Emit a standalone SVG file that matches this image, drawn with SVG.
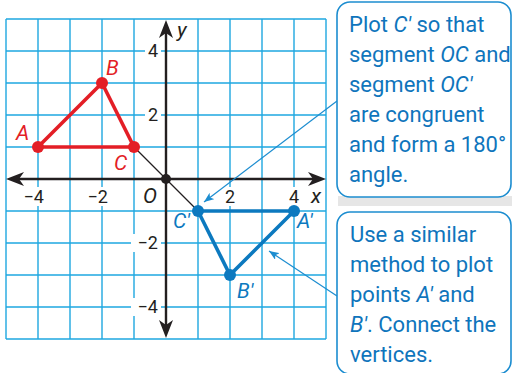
<svg xmlns="http://www.w3.org/2000/svg" width="512" height="373" viewBox="0 0 512 373">
<defs>
<style>
.grid line{stroke:#1EA7E0;stroke-width:1.4}
.axis{stroke:#231F20;stroke-width:2.4}
.num{font-family:Roboto,"Liberation Sans",sans-serif;font-size:18px;fill:#231F20}
.lbl{font-family:Roboto,"Liberation Sans",sans-serif;font-size:21px;font-style:italic}
.red{fill:#E31E26}
.blue{fill:#0C79BF}
.box{fill:#fff;stroke:#1C8DD0;stroke-width:1.6}
.bt{font-family:Roboto,"Liberation Sans",sans-serif;font-size:22px;fill:#0F75BC}
.i{font-style:italic}
.lead{stroke:#1C8DD0;stroke-width:1.2;fill:none}
</style>
<marker id="ah" viewBox="0 0 10 8" refX="10" refY="4" markerWidth="10" markerHeight="8" markerUnits="userSpaceOnUse" orient="auto">
<path d="M0,0 L10,4 L0,8 L2.5,4 Z" fill="#1C8DD0"/>
</marker>
</defs>
<rect width="512" height="373" fill="#fff"/>
<g id="grid" class="grid">
<line x1="6" y1="19" x2="6" y2="339"/><line x1="38" y1="19" x2="38" y2="339"/><line x1="70" y1="19" x2="70" y2="339"/><line x1="102" y1="19" x2="102" y2="339"/><line x1="134" y1="19" x2="134" y2="339"/><line x1="198" y1="19" x2="198" y2="339"/><line x1="230" y1="19" x2="230" y2="339"/><line x1="262" y1="19" x2="262" y2="339"/><line x1="294" y1="19" x2="294" y2="339"/><line x1="326" y1="19" x2="326" y2="339"/>
<line x1="6" y1="19" x2="326" y2="19"/><line x1="6" y1="51" x2="326" y2="51"/><line x1="6" y1="83" x2="326" y2="83"/><line x1="6" y1="115" x2="326" y2="115"/><line x1="6" y1="147" x2="326" y2="147"/><line x1="6" y1="211" x2="326" y2="211"/><line x1="6" y1="243" x2="326" y2="243"/><line x1="6" y1="275" x2="326" y2="275"/><line x1="6" y1="307" x2="326" y2="307"/><line x1="6" y1="339" x2="326" y2="339"/>
</g>
<g id="tick-labels">
<rect x="16" y="187" width="29" height="19" fill="#fff"/>
<rect x="80" y="187" width="29" height="19" fill="#fff"/>
<rect x="222" y="187" width="16" height="19" fill="#fff"/>
<rect x="286" y="187" width="16" height="19" fill="#fff"/>
<rect x="145" y="42" width="16" height="18" fill="#fff"/>
<rect x="145" y="106" width="16" height="18" fill="#fff"/>
<rect x="131" y="234" width="30" height="18" fill="#fff"/>
<rect x="131" y="298" width="30" height="18" fill="#fff"/>
<text class="num" x="44" y="203" text-anchor="end">−4</text>
<text class="num" x="108" y="203" text-anchor="end">−2</text>
<text class="num" x="230" y="203" text-anchor="middle">2</text>
<text class="num" x="294" y="203" text-anchor="middle">4</text>
<text class="num" x="153" y="57" text-anchor="middle">4</text>
<text class="num" x="153" y="121" text-anchor="middle">2</text>
<text class="num" x="158" y="249" text-anchor="end">−2</text>
<text class="num" x="158" y="313" text-anchor="end">−4</text>
<text class="lbl" x="143" y="203" fill="#231F20" font-size="21">O</text>
<text class="lbl" x="311" y="203" fill="#231F20" font-size="20">x</text>
<text class="lbl" x="177" y="37" fill="#231F20" font-size="20">y</text>
</g>
<g id="axes">
<line class="axis" x1="14" y1="179" x2="318" y2="179"/>
<line class="axis" x1="166" y1="28" x2="166" y2="330"/>
<path d="M6,179 L24,172 L19,179 L24,186 Z" fill="#231F20"/>
<path d="M326,179 L308,172 L313,179 L308,186 Z" fill="#231F20"/>
<path d="M166,20 L159,38 L166,33 L173,38 Z" fill="#231F20"/>
<path d="M166,338 L159,320 L166,325 L173,320 Z" fill="#231F20"/>
</g>
<g id="connectors">
<line x1="134" y1="147" x2="198" y2="211" stroke="#231F20" stroke-width="1.3"/>
<line class="lead" x1="337" y1="101" x2="204" y2="202" marker-end="url(#ah)"/>
<line class="lead" x1="337" y1="296" x2="269" y2="251" marker-end="url(#ah)"/>
</g>
<g id="triangle-ABC">
<polygon points="38,147 102,83 134,147" fill="none" stroke="#E31E26" stroke-width="3.6" stroke-linejoin="round"/>
<circle cx="38" cy="147" r="6" class="red"/>
<circle cx="102" cy="83" r="6" class="red"/>
<circle cx="134" cy="147" r="6" class="red"/>
<text class="lbl red" x="16" y="140">A</text>
<text class="lbl red" x="106" y="75">B</text>
<text class="lbl red" x="114" y="170">C</text>
</g>
<g id="triangle-A1B1C1">
<polygon points="294,211 230,275 198,211" fill="none" stroke="#0C79BF" stroke-width="3.6" stroke-linejoin="round"/>
<circle cx="294" cy="211" r="6" class="blue"/>
<circle cx="230" cy="275" r="6" class="blue"/>
<circle cx="198" cy="211" r="6" class="blue"/>
<text class="lbl blue" x="173" y="228">C′</text>
<text class="lbl blue" x="297" y="228">A′</text>
<text class="lbl blue" x="237" y="298">B′</text>
</g>
<g id="origin">
<circle cx="166" cy="179" r="5" fill="#231F20"/>
</g>
<g id="callout1">
<rect x="338" y="196" width="174" height="10" fill="#E6E6E6"/>
<rect class="box" x="337" y="2" width="174" height="195" rx="13"/>
<text class="bt" x="349" y="32">Plot <tspan class="i">C′</tspan> so that</text>
<text class="bt" x="349" y="62">segment <tspan class="i">OC</tspan> and</text>
<text class="bt" x="349" y="92">segment <tspan class="i">OC′</tspan></text>
<text class="bt" x="349" y="122">are congruent</text>
<text class="bt" x="349" y="152">and form a 180°</text>
<text class="bt" x="349" y="182">angle.</text>
</g>
<g id="callout2">
<rect class="box" x="337" y="212" width="174" height="162" rx="13"/>
<text class="bt" x="350" y="242">Use a similar</text>
<text class="bt" x="350" y="272">method to plot</text>
<text class="bt" x="350" y="302">points <tspan class="i">A′</tspan> and</text>
<text class="bt" x="350" y="332"><tspan class="i">B′</tspan>. Connect the</text>
<text class="bt" x="350" y="362">vertices.</text>
</g>
</svg>
